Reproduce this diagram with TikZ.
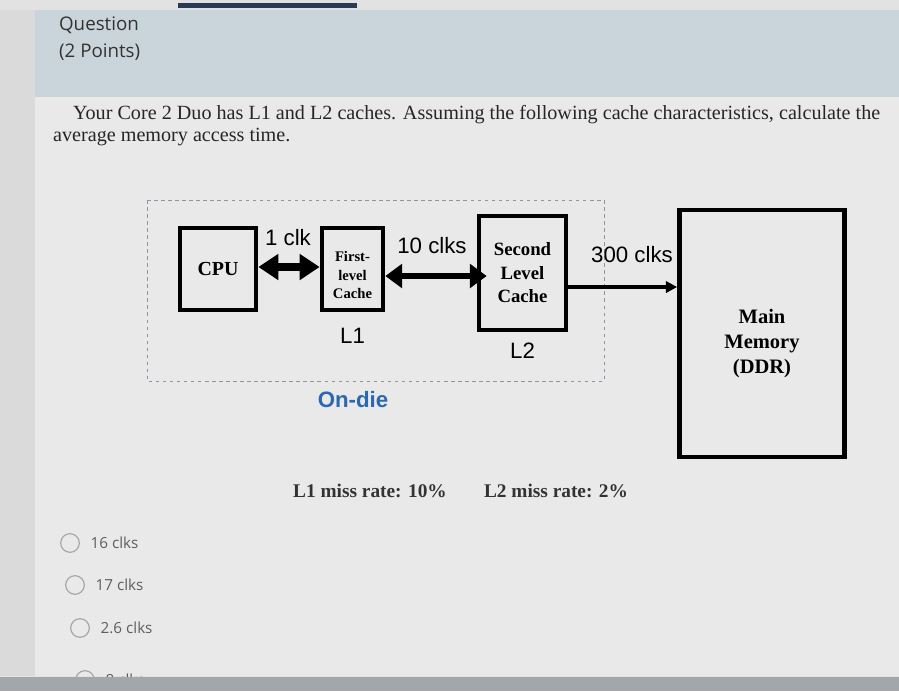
\documentclass[tikz,border=0pt]{standalone}
\usepackage{fontspec}
\setmainfont{Liberation Serif}
\setsansfont{Liberation Sans}
\newfontfamily\uifont{Open Sans}
\usetikzlibrary{arrows.meta, positioning, calc}

\definecolor{pagegray}{HTML}{E2E2E2}
\definecolor{sidegray}{HTML}{DADADA}
\definecolor{headblue}{HTML}{CAD5DB}
\definecolor{bodygray}{HTML}{E9E9E9}
\definecolor{bargray}{HTML}{A3A7AC}
\definecolor{topnavy}{HTML}{2B3A55}
\definecolor{diegray}{HTML}{8A96A6}
\definecolor{dieblue}{HTML}{2A68B0}
\definecolor{optgray}{HTML}{5E5E5E}

\tikzset{
  unit/.style={draw=black, line width=4pt, align=center, inner sep=0pt},
  lat/.style={font=\sffamily\fontsize{19}{21}\selectfont},
  bus/.style={line width=6pt, {Triangle[length=0.6cm,width=0.75cm]}-{Triangle[length=0.6cm,width=0.75cm]}},
  radio/.style={draw=gray!70, line width=1pt, circle, minimum size=0.56cm, inner sep=0pt},
  choice/.style={anchor=west, text=optgray, font=\uifont\fontsize{13}{15}\selectfont},
}

\begin{document}
\begin{tikzpicture}[x=0.03cm, y=-0.03cm]
  \useasboundingbox (0,0) rectangle (899,691);
  % screen background
  \fill[pagegray] (0,0) rectangle (899,691);
  \fill[sidegray] (0,10) rectangle (35,676);
  \fill[headblue] (35,10) rectangle (899,97);
  \fill[bodygray] (35,97) rectangle (899,676);
  \fill[topnavy] (178,3) rectangle (357,8);

  % heading and question
  \node[anchor=west, font=\uifont\fontsize{16}{18}\selectfont, text=black!80] (qhead) at (55,25) {Question};
  \node[anchor=west, font=\uifont\fontsize{16}{18}\selectfont, text=black!80] (qpts) at (55,52) {(2 Points)};
  \node[anchor=west, font=\fontsize{17.2}{19}\selectfont, text=black!85] (qline) at (69,115)
    {Your Core 2 Duo has L1 and L2 caches. Assuming the following cache characteristics, calculate the};
  \node[anchor=west, font=\fontsize{17.2}{19}\selectfont, text=black!85] (qline2) at (49,137) {average memory access time.};

  % on-die region
  \draw[diegray, dashed, line width=0.8pt] (147,200) rectangle (604,381);
  \node[font=\sffamily\bfseries\fontsize{19}{21}\selectfont, text=dieblue] (ondie) at (353,400) {On-die};

  % units
  \node[unit, minimum width=2.28cm, minimum height=2.46cm, font=\bfseries\fontsize{17}{19}\selectfont] (cpu) at (218,269) {CPU};
  \node[unit, minimum width=1.83cm, minimum height=2.46cm,
    label={[align=center, yshift=-0.18cm, font=\bfseries\fontsize{12.5}{15.5}\selectfont]center:First-\\level\\Cache}] (l1) at (352.5,269) {};
  \node[unit, minimum width=2.61cm, minimum height=3.42cm, font=\bfseries\fontsize{16}{20}\selectfont] (l2) at (522.5,273) {Second\\Level\\Cache};
  \node[unit, minimum width=4.95cm, minimum height=7.41cm,
    label={[align=center, yshift=-0.3cm, font=\bfseries\fontsize{17.5}{21}\selectfont]center:Main\\Memory\\(DDR)}] (mem) at (762,333.5) {};

  \node[lat, below=0.35cm of l1] (l1tag) {L1};
  \node[lat, below=0.2cm of l2] (l2tag) {L2};

  % connections
  \draw[bus] ([yshift=0.06cm]cpu.east) -- ([yshift=0.06cm]cpu.east -| l1.west);
  \node[lat] (clk1) at (288,238) {1 clk};
  \draw[line width=5pt, {Triangle[length=0.5cm,width=0.7cm]}-{Triangle[length=0.5cm,width=0.7cm]}]
    ([yshift=-0.21cm]l1.east) -- ([yshift=-0.21cm, xshift=0.3cm]l1.east -| l2.west);
  \node[lat] (clk10) at (432,246) {10 clks};
  \draw[line width=2.8pt, -{Triangle[length=0.34cm,width=0.34cm]}]
    ([yshift=-0.42cm]l2.east) -- ([yshift=-0.42cm]l2.east -| mem.west);
  \node[lat] (clk300) at (632,255) {300 clks};

  % miss rates
  \node[font=\bfseries\fontsize{16.5}{18}\selectfont, text=black!80] (miss1) at (370,491) {L1 miss rate: 10\%};
  \node[font=\bfseries\fontsize{16.5}{18}\selectfont, text=black!80] (miss2) at (556,491) {L2 miss rate: 2\%};

  % answer choices
  \node[radio] (r1) at (70,543) {};
  \node[choice, right=0.2cm of r1] (c1) {16 clks};
  \node[radio] (r2) at (75,585) {};
  \node[choice, right=0.2cm of r2] (c2) {17 clks};
  \node[radio] (r3) at (80,628) {};
  \node[choice, right=0.2cm of r3] (c3) {2.6 clks};
  \node[radio] (r4) at (85,680) {};
  \node[choice, right=0.2cm of r4] (c4) {8 clks};
  \fill[bargray] (0,677) rectangle (899,691);
\end{tikzpicture}
\end{document}
